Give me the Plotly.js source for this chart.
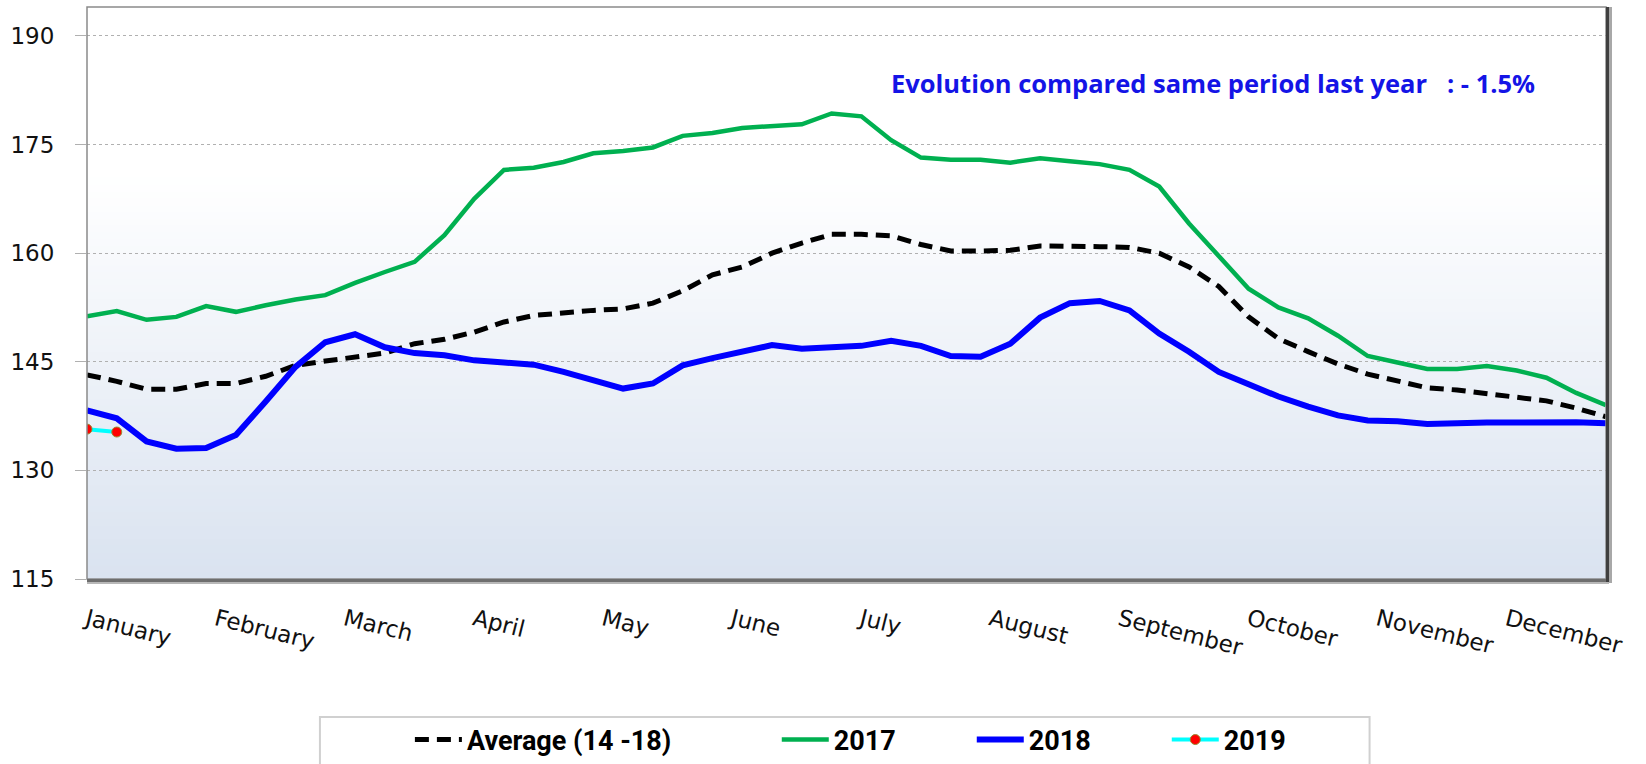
<!DOCTYPE html>
<html>
<head>
<meta charset="utf-8">
<script src="https://cdn.plot.ly/plotly-3.0.1.min.js"></script>
<style>
  html, body { margin: 0; padding: 0; background: #ffffff; }
  #chart { width: 1646px; height: 764px; }
</style>
</head>
<body>
<div id="chart"></div>
<script>
// weekly index of the year
const weeks = Array.from({ length: 52 }, (_, i) => i + 1);

const months = ['January', 'February', 'March', 'April', 'May', 'June', 'July',
  'August', 'September', 'October', 'November', 'December'];

const yTicks = [115, 130, 145, 160, 175, 190];

// values
const avg1418 = [143.2, 142.3, 141.2, 141.2, 142.0, 142.0, 143.0, 144.5, 145.1, 145.7,
  146.2, 147.5, 148.1, 149.1, 150.5, 151.4, 151.8, 152.1, 152.3, 153.1,
  154.8, 157.0, 158.1, 160.0, 161.4, 162.6, 162.6, 162.4, 161.2, 160.3,
  160.3, 160.4, 161.0, 161.0, 160.9, 160.8, 160.0, 158.1, 155.4, 151.2,
  148.2, 146.4, 144.7, 143.3, 142.3, 141.4, 141.1, 140.6, 140.2, 139.6, 138.6, 137.4];

const y2017 = [151.3, 152.0, 150.8, 151.2, 152.7, 151.9, 152.8, 153.6, 154.2, 155.9,
  157.4, 158.8, 162.5, 167.5, 171.5, 171.8, 172.6, 173.8, 174.1, 174.6,
  176.2, 176.6, 177.3, 177.5, 177.8, 179.3, 178.9, 175.6, 173.2, 172.9,
  172.9, 172.5, 173.1, 172.7, 172.3, 171.5, 169.2, 164.1, 159.7, 155.1,
  152.5, 151.0, 148.6, 145.8, 144.9, 144.0, 144.0, 144.4, 143.8, 142.8, 140.7, 139.0];

const y2018 = [138.3, 137.2, 134.0, 133.0, 133.1, 134.9, 139.5, 144.3, 147.7, 148.8,
  147.0, 146.2, 145.9, 145.2, 144.9, 144.6, 143.6, 142.5, 141.3, 142.0,
  144.5, 145.5, 146.5, 147.3, 146.8, 146.9, 147.2, 147.9, 147.2, 145.8,
  145.7, 147.5, 151.1, 153.1, 153.4, 152.1, 148.9, 146.4, 143.6, 141.9,
  140.2, 138.8, 137.6, 136.9, 136.8, 136.4, 136.6, 136.6, 136.6, 136.65, 136.65, 136.5];

const y2019 = [135.7, 135.3];

const evolutionText = 'Evolution compared same period last year\u00a0\u00a0\u00a0: - 1.5%';

// month labels every 52/12 weeks
const monthTicks = months.map((m, i) => 1 + i * 52 / 12);

const traces = [
  {
    x: weeks, y: avg1418, name: 'Average (14 -18)', mode: 'lines', type: 'scatter',
    line: { color: '#000000', width: 5, dash: '14px,8px' }, legend: 'legend', showlegend: true
  },
  {
    x: weeks, y: y2017, name: '2017', mode: 'lines', type: 'scatter',
    line: { color: '#00b050', width: 4.5 }, legend: 'legend2', showlegend: true
  },
  {
    x: weeks, y: y2018, name: '2018', mode: 'lines', type: 'scatter',
    line: { color: '#0000ff', width: 6 }, legend: 'legend2', showlegend: true
  },
  {
    x: weeks.slice(0, y2019.length), y: y2019, name: '2019', mode: 'lines+markers', type: 'scatter',
    line: { color: '#00ffff', width: 4 },
    marker: { color: '#ff0000', size: 10, line: { color: '#9a8a30', width: 1 } },
    legend: 'legend2', showlegend: true
  }
];

// plot background: white fading to light blue-grey at the bottom
const shapes = [];
const bands = 60, fadeTop = 0.70;
for (let i = 0; i < bands; i++) {
  const t = i / bands;
  const r = Math.round(218 + (255 - 218) * t);
  const g = Math.round(227 + (255 - 227) * t);
  const b = Math.round(240 + (255 - 240) * t);
  shapes.push({
    type: 'rect', xref: 'x domain', yref: 'y domain', layer: 'below',
    x0: 0, x1: 1, y0: fadeTop * i / bands, y1: fadeTop * (i + 1) / bands + 0.002,
    fillcolor: `rgb(${r},${g},${b})`, line: { width: 0 }
  });
}
const px = 1 / 1519.5, py = 1 / 572;
shapes.push(
  // legend box
  { type: 'rect', xref: 'paper', yref: 'paper', layer: 'below', x0: (320 - 87) * px, x1: (1370 - 87) * px,
    y0: -0.36, y1: (579 - 717) * py, fillcolor: '#ffffff', line: { color: '#d0d0d0', width: 2 } },
  // frame
  { type: 'rect', xref: 'x domain', yref: 'y domain', x0: 0, x1: 1, y0: 0, y1: 1,
    line: { color: '#8a8a8a', width: 1.5 }, fillcolor: 'rgba(0,0,0,0)' },
  // right and bottom shadow
  { type: 'rect', xref: 'x domain', yref: 'y domain', x0: 1, x1: 1 + 3 * px, y0: -3 * py, y1: 1,
    fillcolor: '#3f3f3f', line: { width: 0 } },
  { type: 'rect', xref: 'x domain', yref: 'y domain', x0: 1 + 3 * px, x1: 1 + 6 * px, y0: -4 * py, y1: 1,
    fillcolor: '#a8a8a8', line: { width: 0 } },
  { type: 'rect', xref: 'x domain', yref: 'y domain', x0: 0, x1: 1, y0: -3 * py, y1: 0,
    fillcolor: '#6e6e6e', line: { width: 0 } },
  { type: 'rect', xref: 'x domain', yref: 'y domain', x0: 0, x1: 1 + 3 * px, y0: -5 * py, y1: -3 * py,
    fillcolor: '#b8b8b8', line: { width: 0 } }
);

const legendFont = { family: 'Liberation Sans Narrow, Roboto, Liberation Sans, sans-serif', size: 27, color: '#000000', weight: 'bold' };

const layout = {
  width: 1646,
  height: 764,
  margin: { l: 87, r: 40, t: 7, b: 185, autoexpand: false },
  paper_bgcolor: '#ffffff',
  plot_bgcolor: '#ffffff',
  showlegend: true,
  font: { family: 'DejaVu Sans, Verdana, sans-serif', color: '#1a1a1a' },
  xaxis: {
    range: [1, 52],
    tickvals: monthTicks,
    ticktext: months,
    tickangle: 14,
    ticks: '',
    showgrid: false,
    zeroline: false,
    showline: false,
    automargin: false,
    ticklabelstandoff: 22,
    tickfont: { size: 23, color: '#111111' },
    fixedrange: true
  },
  yaxis: {
    range: [115, 194],
    tickvals: yTicks,
    ticks: 'outside',
    ticklen: 11,
    tickcolor: '#b0b0b0',
    tickwidth: 1,
    showgrid: true,
    gridcolor: '#b0b0b0',
    griddash: 'dot',
    gridwidth: 1,
    zeroline: false,
    showline: false,
    automargin: false,
    ticklabelstandoff: 16,
    tickfont: { size: 23, color: '#111111' },
    fixedrange: true
  },
  shapes: shapes,
  annotations: [
    {
      xref: 'paper', yref: 'y', x: (889 - 87) * px, y: 183.5,
      xanchor: 'left', yanchor: 'middle', showarrow: false,
      text: '<b>' + evolutionText + '</b>',
      font: { family: 'Open Sans, Noto Sans, sans-serif', size: 25.5, color: '#1414e6' }
    }
  ],
  legend: {
    orientation: 'h',
    x: (410 - 87) * px, xanchor: 'left',
    y: (579 - 740) * py, yanchor: 'middle',
    itemwidth: 47,
    bgcolor: 'rgba(0,0,0,0)',
    font: legendFont
  },
  legend2: {
    orientation: 'h',
    x: (777 - 87) * px, xanchor: 'left',
    y: (579 - 740) * py, yanchor: 'middle',
    itemwidth: 47,
    entrywidth: 133,
    entrywidthmode: 'pixels',
    bgcolor: 'rgba(0,0,0,0)',
    font: legendFont
  }
};

Plotly.newPlot('chart', traces, layout, { displayModeBar: false, staticPlot: true });
</script>
</body>
</html>
